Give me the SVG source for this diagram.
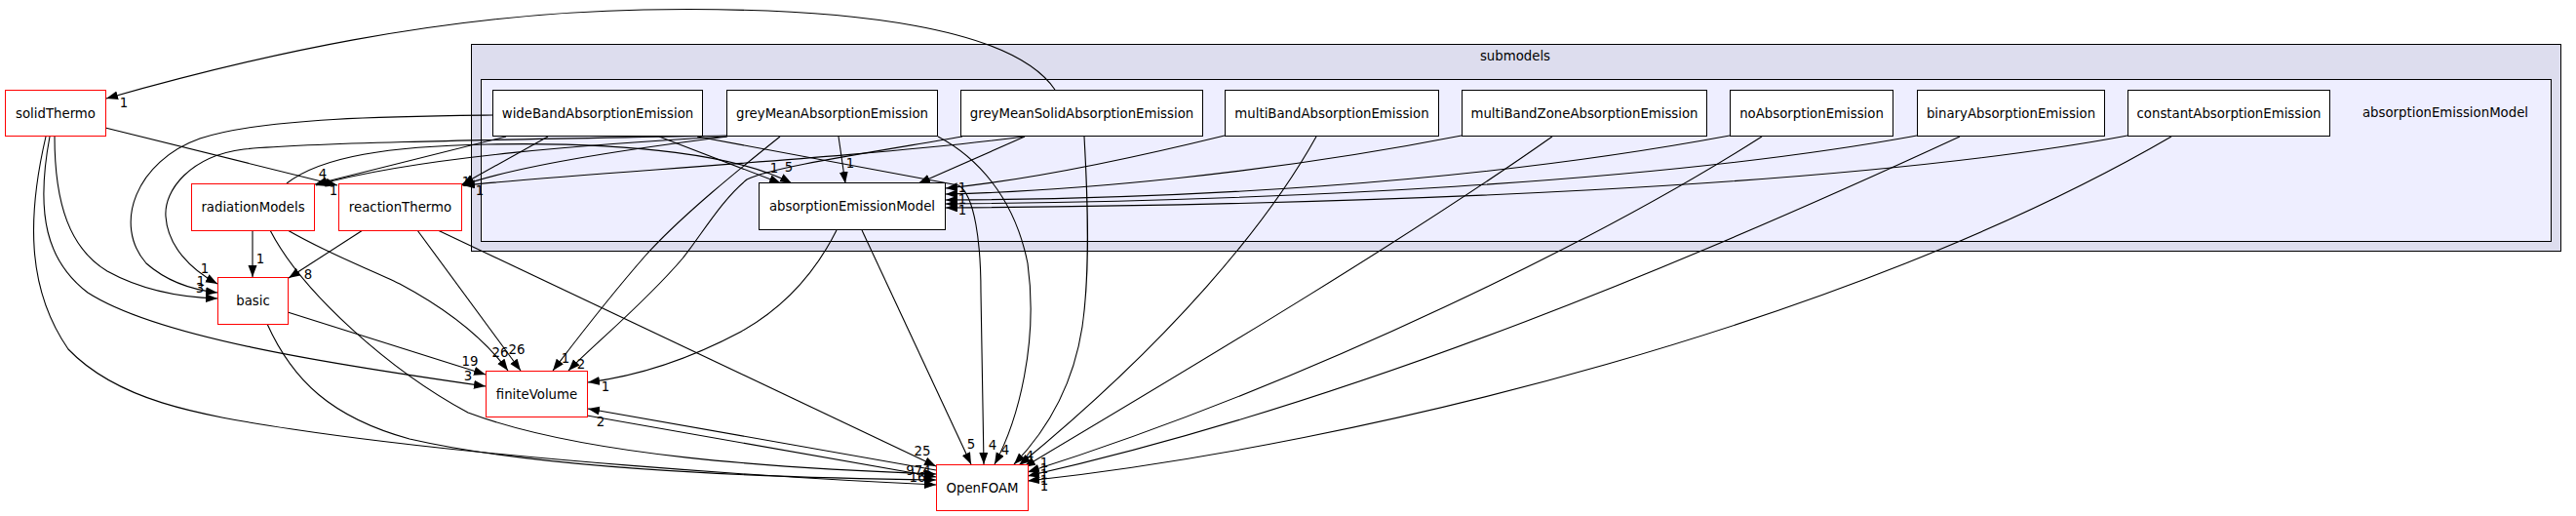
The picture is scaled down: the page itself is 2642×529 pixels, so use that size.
<svg xmlns="http://www.w3.org/2000/svg" width="2642" height="529" viewBox="0 0 2642 529">
<style>
text{font-family:"DejaVu Sans","Liberation Sans",sans-serif;font-size:13.3px;fill:#000;text-anchor:middle}
.box{fill:#fff;stroke:#000;stroke-width:1}
.ext{fill:#fff;stroke:#ff0000;stroke-width:1}
.e path{fill:none;stroke:#000;stroke-width:1.1;marker-end:url(#ah)}
</style>
<defs>
<marker id="ah" markerWidth="14" markerHeight="10" refX="12" refY="4.5" orient="auto" markerUnits="userSpaceOnUse"><path d="M0,0 L12,4.5 L0,9 z" fill="#000"/></marker>
</defs>
<rect width="2642" height="529" fill="#fff"/>
<g id="cluster-submodels"><rect x="483.5" y="45.5" width="2143" height="212" fill="#ddddee" stroke="#000"/><text x="1554" y="62">submodels</text></g>
<g id="cluster-absorptionEmissionModel"><rect x="493.5" y="81.5" width="2123" height="166" fill="#eeeeff" stroke="#000"/><text x="2508" y="120">absorptionEmissionModel</text></g>

<g id="connectors" class="e">
<path d="M1082,92 C1040,30 880,6 660,10 C450,14 260,58 109,101"/><text x="127" y="110">1</text>
<path d="M108,131 L346,190"/><text x="342" y="200">1</text>
<path d="M56,140 C56,210 72,255 110,278 C150,300 190,305 223,306"/><text x="205" y="300">3</text>
<path d="M51,140 C36,220 48,268 90,300 C160,345 330,372 498,396"/><text x="480" y="390">3</text>
<path d="M47,140 C26,230 30,300 70,358 C120,410 200,425 300,440 C500,470 800,490 960,497"/>
<path d="M505,118 C420,119 270,120 205,142 C140,165 115,230 150,270 C175,292 205,298 223,300"/><text x="206" y="293">1</text>
<path d="M745,139 C600,142 330,145 250,153 C195,160 168,195 170,222 C172,252 195,276 223,291"/><text x="210" y="280">1</text>
<path d="M259,236 L259,284"/><text x="267" y="270">1</text>
<path d="M372,236 L296,285"/><text x="316" y="286">8</text>
<path d="M295,236 C340,262 380,276 410,291 C455,315 495,345 521,380"/><text x="513" y="366">26</text>
<path d="M428,236 L534,380"/><text x="530" y="363">26</text>
<path d="M449,236 L960,478"/><text x="946" y="467">25</text>
<path d="M277,236 C310,300 400,380 480,423 C600,468 800,480 960,486"/>
<path d="M274,332 C300,390 340,428 420,450 C560,482 800,490 960,492"/>
<path d="M295,320 L498,384"/><text x="482" y="375">19</text>
<path d="M602,426 L960,489"/>
<path d="M960,482 L603,419"/><text x="616" y="437">2</text>
<text x="942" y="487">974</text><text x="941" y="494">16</text>
<path d="M519,140 L323,189"/><text x="331" y="183">4</text>
<path d="M745,140 C620,147 430,160 324,190"/>
<path d="M562,140 L474,189"/><text x="478" y="191">1</text>
<path d="M746,140 C650,152 530,170 474,190"/><text x="492" y="200">1</text>
<path d="M1051,140 C880,162 620,176 475,190"/>
<path d="M294,188 C330,160 400,150 500,148 C650,145 760,160 812,188"/><text x="809" y="176">5</text>
<path d="M676,140 L801,188"/><text x="794" y="177">1</text>
<path d="M860,140 L867,188"/><text x="872" y="172">1</text>
<path d="M1051,140 L942,188"/><text x="951" y="192">1</text>
<path d="M1256,139 C1150,165 1050,185 970,193"/><text x="987" y="197">1</text>
<path d="M1499,139 C1300,178 1100,196 970,199"/>
<path d="M1774,139 C1500,190 1200,204 970,205"/><text x="987" y="209">1</text>
<path d="M1966,139 C1700,188 1300,206 970,209"/>
<path d="M2182,139 C1900,192 1400,210 970,213"/><text x="987" y="220">1</text>
<path d="M800,140 C760,172 700,220 662,262 C620,310 590,350 567,380"/><text x="580" y="372">1</text>
<path d="M987,140 C870,160 790,172 766,184 C740,205 720,240 700,265 C660,312 610,352 583,380"/><text x="596" y="378">2</text>
<path d="M858,236 C840,272 810,312 760,340 C700,372 650,386 603,392"/><text x="621" y="401">1</text>
<path d="M884,236 L996,476"/><text x="996" y="460">5</text>
<path d="M715,140 L983,190 C1000,200 1006,250 1006,300 L1009,476"/><text x="1018" y="461">4</text>
<path d="M962,140 C1000,160 1040,200 1054,270 C1065,350 1045,430 1020,476"/><text x="1031" y="466">4</text>
<path d="M1112,140 C1116,210 1118,280 1110,335 C1100,400 1070,445 1040,476"/><text x="1056" y="472">4</text>
<path d="M1350,140 C1300,230 1200,350 1045,477"/>
<path d="M1592,140 C1450,240 1250,360 1050,479"/>
<path d="M1807,140 C1650,240 1350,390 1054,484"/>
<path d="M2010,140 C1750,260 1400,410 1054,488"/>
<path d="M2227,140 C1900,330 1400,455 1054,493"/>
<text x="1071" y="479">1</text><text x="1071" y="485">1</text><text x="1071" y="491">1</text><text x="1071" y="497">1</text><text x="1071" y="503">1</text>
</g>

<g id="n-wideBandAbsorptionEmission"><rect class="box" x="505.5" y="92.5" width="215" height="47"/><text x="613" y="120.5">wideBandAbsorptionEmission</text></g>
<g id="n-greyMeanAbsorptionEmission"><rect class="box" x="745.5" y="92.5" width="216" height="47"/><text x="853.5" y="120.5">greyMeanAbsorptionEmission</text></g>
<g id="n-greyMeanSolidAbsorptionEmission"><rect class="box" x="985.5" y="92.5" width="248" height="47"/><text x="1109.5" y="120.5">greyMeanSolidAbsorptionEmission</text></g>
<g id="n-multiBandAbsorptionEmission"><rect class="box" x="1256.5" y="92.5" width="219" height="47"/><text x="1366" y="120.5">multiBandAbsorptionEmission</text></g>
<g id="n-multiBandZoneAbsorptionEmission"><rect class="box" x="1499.5" y="92.5" width="251" height="47"/><text x="1625" y="120.5">multiBandZoneAbsorptionEmission</text></g>
<g id="n-noAbsorptionEmission"><rect class="box" x="1774.5" y="92.5" width="167" height="47"/><text x="1858" y="120.5">noAbsorptionEmission</text></g>
<g id="n-binaryAbsorptionEmission"><rect class="box" x="1966.5" y="92.5" width="192" height="47"/><text x="2062.5" y="120.5">binaryAbsorptionEmission</text></g>
<g id="n-constantAbsorptionEmission"><rect class="box" x="2182.5" y="92.5" width="207" height="47"/><text x="2286" y="120.5">constantAbsorptionEmission</text></g>
<g id="n-absorptionEmissionModel"><rect class="box" x="778.5" y="187.5" width="191" height="48"/><text x="874" y="216">absorptionEmissionModel</text></g>
<g id="n-solidThermo"><rect class="ext" x="5.5" y="92.5" width="103" height="47"/><text x="57" y="120.5">solidThermo</text></g>
<g id="n-radiationModels"><rect class="ext" x="196.5" y="188.5" width="126" height="48"/><text x="259.5" y="216.5">radiationModels</text></g>
<g id="n-reactionThermo"><rect class="ext" x="347.5" y="188.5" width="126" height="48"/><text x="410.5" y="216.5">reactionThermo</text></g>
<g id="n-basic"><rect class="ext" x="223.5" y="284.5" width="72" height="48"/><text x="259.5" y="313">basic</text></g>
<g id="n-finiteVolume"><rect class="ext" x="498.5" y="380.5" width="104" height="47"/><text x="550.5" y="408.5">finiteVolume</text></g>
<g id="n-OpenFOAM"><rect class="ext" x="960.5" y="476.5" width="94" height="47"/><text x="1007.5" y="504.5">OpenFOAM</text></g>
</svg>
